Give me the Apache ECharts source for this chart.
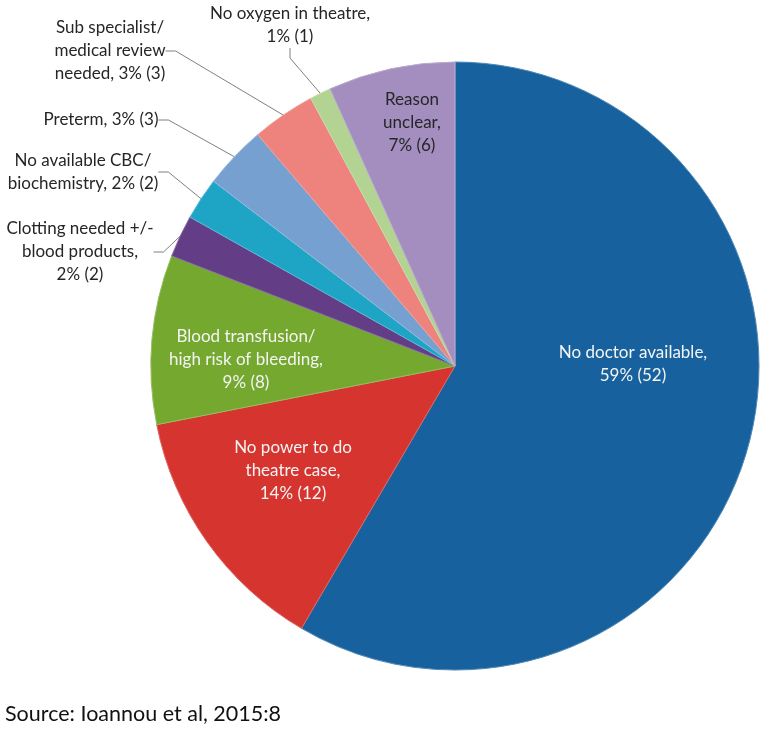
<!DOCTYPE html>
<html>
<head>
<meta charset="utf-8">
<script src="https://cdn.jsdelivr.net/npm/echarts@6/dist/echarts.min.js"></script>
<style>
  html, body { margin: 0; padding: 0; background: #fff; }
  #chart { width: 766px; height: 733px; }
</style>
</head>
<body>
<div id="chart"></div>
<script>
// Reasons (clockwise from 12 o'clock)
const reasons = [
    'No doctor available',
    'No power to do theatre case',
    'Blood transfusion/ high risk of bleeding',
    'Clotting needed +/- blood products',
    'No available CBC/ biochemistry',
    'Preterm',
    'Sub specialist/ medical review needed',
    'No oxygen in theatre',
    'Reason unclear'
];
const counts = [52, 12, 8, 2, 2, 3, 3, 1, 6];
// label text as printed on the figure
const labelTexts = [
    'No doctor available,\n59% (52)',
    'No power to do\ntheatre case,\n14% (12)',
    'Blood transfusion/\nhigh risk of bleeding,\n9% (8)',
    'Clotting needed +/-\nblood products,\n2% (2)',
    'No available CBC/\nbiochemistry, 2% (2)',
    'Preterm, 3% (3)',
    'Sub specialist/\nmedical review\nneeded, 3% (3)',
    'No oxygen in theatre,\n1% (1)',
    'Reason\nunclear,\n7% (6)'
];
const sourceNote = 'Source: Ioannou et al, 2015:8';

const sliceColors = ['#17629e', '#d5342f', '#74a82e', '#633e87', '#1ea5c6', '#76a0d0', '#ee827d', '#b2d391', '#a38ebf'];
const insideLabels = [0, 1, 2, 8];
const lightText = [0, 1, 2];

// where each label sits (text block centre)
const labelSpots = [
    [633, 364], [293, 471], [246, 360], [80, 252], [83, 172],
    [101, 120], [110, 51], [290, 25], [412, 123]
];

const chart = echarts.init(document.getElementById('chart'));

const pieData = counts.map((v, i) => {
    const inside = insideLabels.includes(i);
    return {
        name: reasons[i],
        value: v,
        itemStyle: {
            color: sliceColors[i],
            borderColor: echarts.color.lift(sliceColors[i], 0.25)
        },
        label: {
            position: inside ? 'inside' : 'outside',
            color: lightText.includes(i) ? '#f4f4f4' : '#262626'
        },
        labelLine: { show: !inside }
    };
});

chart.setOption({
    backgroundColor: '#fff',
    animation: false,
    textStyle: { fontFamily: 'Lato' },
    graphic: [{
        type: 'text',
        left: 5,
        top: 703,
        style: {
            text: sourceNote,
            font: '21.5px Lato',
            fill: '#111'
        }
    }],
    series: [{
        type: 'pie',
        center: [455, 366],
        radius: 304,
        startAngle: 90,
        clockwise: true,
        data: pieData,
        itemStyle: {
            borderWidth: 1
        },
        label: {
            formatter: p => labelTexts[p.dataIndex],
            fontFamily: 'Lato',
            fontSize: 17,
            lineHeight: 23,
            align: 'center',
            overflow: 'none'
        },
        labelLine: {
            show: true,
            length: 10,
            length2: 10,
            lineStyle: { color: '#808080', width: 1 }
        },
        labelLayout: function (params) {
            const spot = labelSpots[params.dataIndex];
            return {
                x: spot[0],
                y: spot[1],
                align: 'center',
                verticalAlign: 'middle'
            };
        }
    }]
});
</script>
</body>
</html>
